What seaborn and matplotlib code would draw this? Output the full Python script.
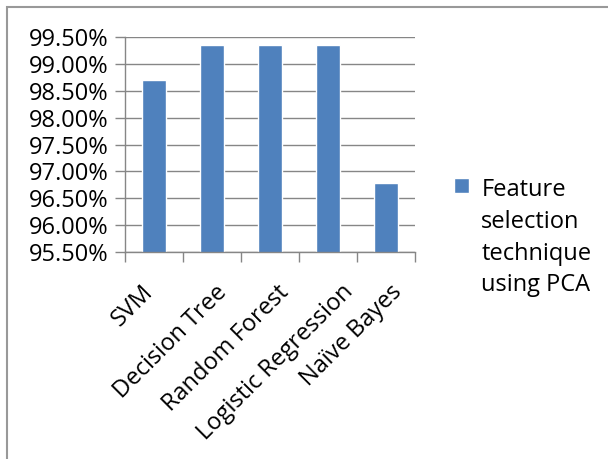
import matplotlib
matplotlib.use("Agg")
import matplotlib.pyplot as plt
import seaborn as sns
import pandas as pd
from matplotlib.ticker import FuncFormatter, FixedLocator
from matplotlib.patches import Rectangle
from matplotlib.legend_handler import HandlerPatch
from matplotlib.transforms import ScaledTranslation

categories = ["SVM", "Decision Tree", "Random Forest", "Logistic Regression", "Naïve Bayes"]
accuracy = [98.70, 99.35, 99.35, 99.35, 96.78]
series_name = "Feature\nselection\ntechnique\nusing PCA"
yticks = [95.5, 96.0, 96.5, 97.0, 97.5, 98.0, 98.5, 99.0, 99.5]

df = pd.DataFrame({"Model": categories, "Accuracy": accuracy, "Series": series_name})

sns.set_theme(style="white")
plt.rcParams["font.family"] = ["Open Sans", "DejaVu Sans"]
plt.rcParams["text.color"] = "black"
plt.rcParams["xtick.color"] = "black"
plt.rcParams["ytick.color"] = "black"

FS = 17
fig = plt.figure(figsize=(6.08, 4.59), dpi=100)
ax = fig.add_axes([125/608, 1 - 252/459, (415-125)/608, (252-37)/459])

bar_color = "#4F81BD"
sns.barplot(data=df, x="Model", y="Accuracy", hue="Series", palette=[bar_color],
            width=0.4, ax=ax, saturation=1)

ax.set_ylim(95.5, 99.5)
ax.set_xlim(-0.5, len(categories) - 0.5)
ax.yaxis.set_major_locator(FixedLocator(yticks))
ax.yaxis.set_major_formatter(FuncFormatter(lambda v, p: f"{v:.2f}%"))
ax.grid(axis="y", color="#868686", linewidth=1.0)
ax.set_axisbelow(True)
for s in ["top", "right"]:
    ax.spines[s].set_visible(False)
for s in ["left", "bottom"]:
    ax.spines[s].set_color("#868686")
    ax.spines[s].set_linewidth(1.0)

# category boundary ticks
ax.set_xticks([i - 0.5 for i in range(len(categories) + 1)], minor=True)
ax.tick_params(axis="x", which="minor", length=7, color="#868686", width=1, direction="out", bottom=True)
ax.tick_params(axis="x", which="major", length=0, pad=26.5)
ax.tick_params(axis="y", which="major", length=7, color="#868686", width=1, direction="out",
               left=True, labelsize=FS, pad=5, labelcolor="black")
ax.set_xticks(range(len(categories)))
ax.set_xticklabels(categories, rotation=45, ha="right", va="center", rotation_mode="anchor",
                   fontsize=FS, color="black")
label_dx_px = [-4, 11, 15, 22, 12]
for lab, dx in zip(ax.get_xticklabels(), label_dx_px):
    lab.set_transform(lab.get_transform() + ScaledTranslation(dx / 100, 0, fig.dpi_scale_trans))
ax.set_xlabel("")
ax.set_ylabel("")

LINESPACING = 1.42
sq_pt = 15 * 72 / 100


def top_square(legend, orig_handle, xdescent, ydescent, width, height, fontsize):
    return Rectangle((-xdescent, -ydescent + 38.5), sq_pt, sq_pt)


handles, labels = ax.get_legend_handles_labels()
leg = ax.legend(handles, labels, loc="upper left", bbox_to_anchor=(445/608, 1 - 169/459),
                bbox_transform=fig.transFigure, frameon=False, fontsize=FS,
                handlelength=sq_pt / FS, handleheight=0.7, handletextpad=0.5,
                borderaxespad=0, handler_map={handles[0]: HandlerPatch(patch_func=top_square)})
for t in leg.get_texts():
    t.set_linespacing(LINESPACING)
    t.set_color("black")

fig.patches.append(Rectangle((7/608, -0.1), 1.2, 1 - 7/459 + 0.1, transform=fig.transFigure,
                             fill=False, edgecolor="#999999", linewidth=1.5, zorder=0))

fig.savefig("out.png", dpi=100)
